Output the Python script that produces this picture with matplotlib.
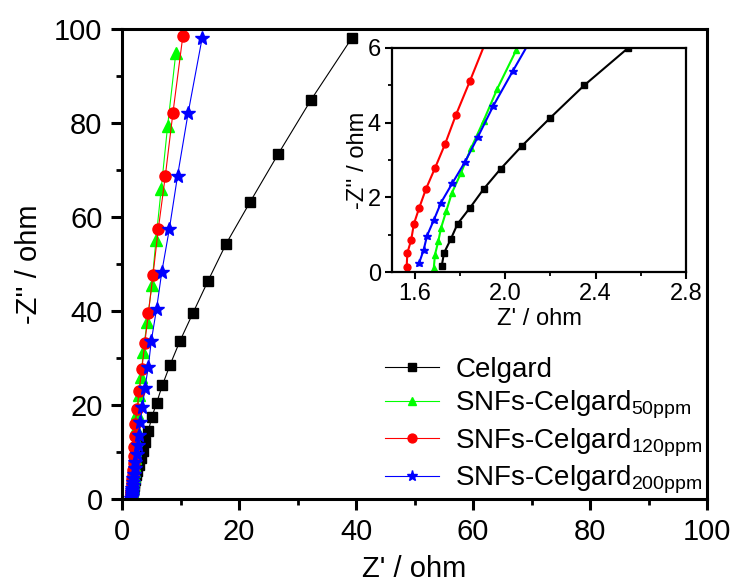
import numpy as np
import matplotlib
matplotlib.use('Agg')
import matplotlib.pyplot as plt

plt.rcParams['font.family'] = ['Liberation Sans', 'DejaVu Sans']
plt.rcParams['mathtext.default'] = 'regular'

# Nyquist data, Z' (x) and -Z'' (y) in ohm
celgard_x = [1.72, 1.73, 1.76, 1.79, 1.845, 1.905, 1.98, 2.075, 2.20, 2.35, 2.544,
             2.85, 3.18, 3.55, 4.0, 4.5, 5.1, 5.9, 6.9, 8.2, 9.9, 12.1, 14.7, 17.8,
             21.9, 26.7, 32.3, 39.3]
celgard_y = [0.16, 0.51, 0.88, 1.29, 1.72, 2.22, 2.76, 3.38, 4.13, 5.0, 6.0,
             7.3, 8.7, 10.3, 12.1, 14.5, 17.4, 20.4, 24.2, 28.5, 33.6, 39.5, 46.4, 54.3,
             63.2, 73.4, 84.9, 98.1]

snf50_x = [1.685, 1.69, 1.705, 1.717, 1.74, 1.765, 1.805, 1.85, 1.905, 1.965, 2.05,
           2.10, 2.16, 2.24, 2.34, 2.45, 2.6, 2.9, 3.3, 3.6, 4.3, 5.1, 5.8, 6.7, 7.8, 9.2]
snf50_y = [0.11, 0.46, 0.83, 1.18, 1.63, 2.12, 2.65, 3.32, 4.05, 4.9, 5.95,
           7.2, 8.7, 10.5, 12.6, 15.2, 18.3, 22.1, 26.0, 31.3, 37.7, 45.5, 55.1, 66.0, 79.4, 94.9]

snf120_x = [1.565, 1.568, 1.585, 1.597, 1.62, 1.65, 1.69, 1.735, 1.783, 1.845,
            1.92, 1.97, 2.03, 2.10, 2.15, 2.2, 2.6, 2.9, 3.4, 3.9, 4.5, 5.3, 6.2, 7.4, 8.7, 10.4]
snf120_y = [0.14, 0.51, 0.86, 1.29, 1.71, 2.22, 2.78, 3.43, 4.21, 5.12,
            6.25, 7.6, 9.2, 11.1, 13.3, 16.0, 19.1, 23.0, 27.7, 33.2, 39.5, 47.7, 57.4, 68.7, 82.1, 98.5]

snf200_x = [1.62, 1.64, 1.655, 1.685, 1.717, 1.767, 1.823, 1.88, 1.948, 2.035,
            2.14, 2.3, 2.5, 2.7, 2.9, 3.1, 3.5, 3.9, 4.5, 5.0, 5.9, 6.8, 8.1, 9.5, 11.3, 13.7]
snf200_y = [0.24, 0.59, 0.97, 1.39, 1.86, 2.38, 2.95, 3.62, 4.45, 5.39,
            6.5, 7.9, 9.5, 11.4, 13.7, 16.4, 19.6, 23.6, 28.1, 33.6, 40.4, 48.3, 57.5, 68.8, 82.1, 98.1]

labels = ['Celgard', 'SNFs-Celgard$_{50ppm}$', 'SNFs-Celgard$_{120ppm}$',
          'SNFs-Celgard$_{200ppm}$']
series = [(celgard_x, celgard_y, 'k', 's', 7),
          (snf50_x, snf50_y, '#00ff00', '^', 8),
          (snf120_x, snf120_y, '#ff0000', 'o', 8),
          (snf200_x, snf200_y, '#0000ff', '*', 10)]

fig = plt.figure(figsize=(7.39, 5.88), dpi=100)
ax = fig.add_axes([0.1651, 0.1514, 0.7916, 0.7993])

for (x, y, c, m, ms), lab in zip(series, labels):
    ax.plot(x, y, color=c, lw=0.8, marker=m, ms=ms, mfc=c, mec=c, label=lab)

ax.set_xlim(0, 100)
ax.set_ylim(0, 100)
ax.set_xticks(np.arange(0, 101, 20))
ax.set_yticks(np.arange(0, 101, 20))
ax.set_xticks(np.arange(10, 100, 20), minor=True)
ax.set_yticks(np.arange(10, 100, 20), minor=True)
ax.tick_params(which='major', direction='out', length=8, width=2.2, labelsize=21, pad=6)
ax.tick_params(which='minor', direction='out', length=4, width=2.0)
for s in ax.spines.values():
    s.set_linewidth(2.2)
ax.set_xlabel("Z' / ohm", fontsize=21, labelpad=6)
ax.set_ylabel("-Z'' / ohm", fontsize=21, labelpad=8)

# legend handles use smaller markers than the data
leg = ax.legend(loc='upper left', bbox_to_anchor=(0.521, 0.393), bbox_transform=fig.transFigure,
                frameon=False, numpoints=1, fontsize=20, handlelength=1.95,
                handletextpad=0.58, labelspacing=0.2, borderpad=0, borderaxespad=0,
                markerscale=0.8)

# inset: high-frequency region
axin = fig.add_axes([0.5304, 0.5374, 0.3979, 0.3810])
for x, y, c, m, ms in series:
    axin.plot(x, y, color=c, lw=1.5, marker=m, ms=ms * 0.62, mfc=c, mec=c)
axin.set_xlim(1.5, 2.8)
axin.set_ylim(0, 6)
axin.set_xticks([1.6, 2.0, 2.4, 2.8])
axin.set_xticks([1.8, 2.2, 2.6], minor=True)
axin.set_yticks([0, 2, 4, 6])
axin.set_yticks([1, 3, 5], minor=True)
axin.tick_params(which='major', direction='out', length=5, width=1.5, labelsize=17, pad=3)
axin.tick_params(which='minor', direction='out', length=3, width=1.3)
for s in axin.spines.values():
    s.set_linewidth(1.6)
axin.set_xlabel("Z' / ohm", fontsize=17, labelpad=2)
axin.set_ylabel("-Z'' / ohm", fontsize=17, labelpad=-1)

fig.savefig('out.png', dpi=100)
